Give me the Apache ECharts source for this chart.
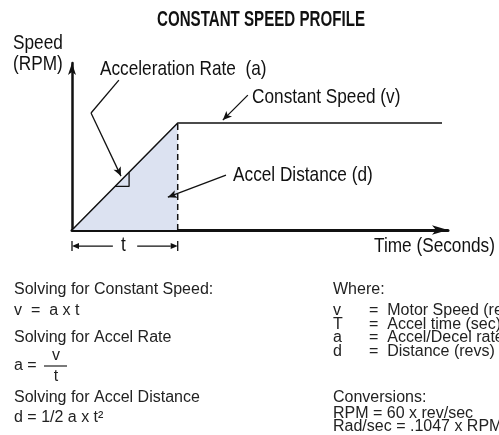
<!DOCTYPE html>
<html>
<head>
<meta charset="utf-8">
<script src="https://cdn.jsdelivr.net/npm/echarts@6/dist/echarts.min.js"></script>
<style>
  html, body { margin: 0; padding: 0; background: #fff; }
  #chart { width: 499px; height: 435px; }
</style>
</head>
<body>
<div id="chart"></div>
<script>
/* ---------- data (diagram units) ---------- */
const accelTime = 3;     // t
const topSpeed = 3;      // v
const runEnd = 10.5;

const profile = [[0, 0], [accelTime, topSpeed], [runEnd, topSpeed]];
const accelArea = [[0, 0], [accelTime, topSpeed]];
const accelEdge = [[accelTime, 0], [accelTime, topSpeed]];
const slopeMark = [[1.22, 1.22], [1.62, 1.22], [1.62, 1.62]];

// leader lines without / with an arrow head
const leaderLines = [
  [[1.33, 4.20], [0.54, 3.28]]
];
const leaderArrows = [
  [[0.54, 3.28], [1.39, 1.51]],
  [[4.99, 3.78], [4.28, 3.08]],
  [[4.37, 1.54], [2.72, 0.92]]
];
// the "t" dimension under the x axis
const dimTicks = [
  [[0, -0.31], [0, -0.59]],
  [[accelTime, -0.31], [accelTime, -0.59]]
];
const dimArrows = [
  [[1.16, -0.45], [0, -0.45]],
  [[1.85, -0.45], [accelTime, -0.45]]
];

const diagramLabels = [
  { name: 'Speed\n(RPM)', value: [-1.674, 4.95] },
  { name: 'Acceleration Rate  (a)', value: [0.795, 4.51] },
  { name: 'Constant Speed (v)', value: [5.11, 3.73] },
  { name: 'Accel Distance (d)', value: [4.57, 1.54] },
  { name: 'Time (Seconds)', value: [8.57, -0.45] },
  { name: 't', value: [1.39, -0.42] }
];

const solvingLines = [
  ['Solving for Constant Speed:', 290],
  ['v  =  a x t', 311],
  ['Solving for Accel Rate', 338],
  ['a =', 366],
  ['Solving for Accel Distance', 398],
  ['d = 1/2 a x t\u00b2', 418]
];
const whereLines = [
  ['Where:', 290],
  ['Conversions:', 398],
  ['RPM = 60 x rev/sec', 414],
  ['Rad/sec = .1047 x RPM', 427]
];
const variableRows = [
  ['v', 'Motor Speed (rev/sec)', 311],
  ['T', 'Accel time (sec)', 324.5],
  ['a', 'Accel/Decel rate (rev/sec\u00b2)', 338],
  ['d', 'Distance (revs)', 351.5]
];

/* ---------- chart ---------- */
const chart = echarts.init(document.getElementById('chart'));
const sans = '"Liberation Sans", Arial, sans-serif';
const ink = '#111';
const txt = '#222';

function segs(list) {
  return list.map(s => [{ coord: s[0] }, { coord: s[1] }]);
}

function marker(list, arrow) {
  return {
    type: 'line', data: [], silent: true,
    markLine: {
      silent: true,
      symbol: ['none', arrow ? 'arrow' : 'none'],
      symbolSize: [6, 9],
      label: { show: false },
      lineStyle: { color: ink, width: 1.3, type: 'solid' },
      emphasis: { disabled: true },
      animation: false,
      data: segs(list)
    }
  };
}

// straight pieces below the axis (outside the grid), drawn via the axis scales
function dimSeries(list, withHead) {
  return {
    type: 'custom', clip: false, silent: true,
    data: list.map(s => [s[0][0], s[0][1], s[1][0], s[1][1]]),
    renderItem(params, api) {
      const a = api.coord([api.value(0), api.value(1)]);
      const b = api.coord([api.value(2), api.value(3)]);
      if (!withHead) {
        return { type: 'line', shape: { x1: a[0], y1: a[1], x2: b[0], y2: b[1] }, style: { stroke: ink, lineWidth: 1.3 } };
      }
      const ang = Math.atan2(b[1] - a[1], b[0] - a[0]);
      const len = 7, half = 3;
      const bx = b[0] - len * Math.cos(ang), by = b[1] - len * Math.sin(ang);
      const nx = -Math.sin(ang) * half, ny = Math.cos(ang) * half;
      return {
        type: 'group', children: [
          { type: 'line', shape: { x1: a[0], y1: a[1], x2: bx, y2: by }, style: { stroke: ink, lineWidth: 1.3 } },
          { type: 'polygon', shape: { points: [[b[0], b[1]], [bx + nx, by + ny], [bx - nx, by - ny]] }, style: { fill: ink } }
        ]
      };
    }
  };
}

const texts = [];
function addText(x, y, s, extra) {
  texts.push(Object.assign({ type: 'text', x: x, y: y, silent: true,
    style: Object.assign({ text: s, font: '16px ' + sans, fill: txt, verticalAlign: 'middle' }, extra || {}) }));
}
solvingLines.forEach(l => addText(14, l[1], l[0]));
addText(56, 356, 'v', { align: 'center' });
addText(56, 377, 't', { align: 'center' });
texts.push({ type: 'line', silent: true, shape: { x1: 44, y1: 366, x2: 67, y2: 366 }, style: { stroke: txt, lineWidth: 1.2 } });
whereLines.forEach(l => addText(333, l[1], l[0]));
variableRows.forEach(r => {
  addText(333, r[2], r[0]);
  addText(369, r[2], '=  ' + r[1]);
});
// condensed title (Helvetica Condensed look-alike)
texts.push({ type: 'text', x: 157, y: 20, scaleX: 0.687, silent: true,
  style: { text: 'CONSTANT SPEED PROFILE', font: 'bold 22px ' + sans, fill: ink, verticalAlign: 'middle' } });

const option = {
  animation: false,
  grid: { left: 72, top: 63, width: 376, height: 167 },
  xAxis: {
    type: 'value', min: 0, max: 10.67,
    axisLine: { symbol: ['none', 'arrow'], symbolSize: [7, 16], lineStyle: { color: ink, width: 3 } },
    axisTick: { show: false }, axisLabel: { show: false }, splitLine: { show: false }
  },
  yAxis: {
    type: 'value', min: 0, max: 4.68,
    axisLine: { show: true, symbol: ['none', 'arrow'], symbolSize: [6, 12], lineStyle: { color: ink, width: 2.5 } },
    axisTick: { show: false }, axisLabel: { show: false }, splitLine: { show: false }
  },
  series: [
    {
      type: 'line', data: accelArea, showSymbol: false, silent: true,
      lineStyle: { width: 0 }, areaStyle: { color: '#dce2f1', opacity: 1 }
    },
    {
      type: 'line', data: accelEdge, showSymbol: false, silent: true,
      lineStyle: { color: ink, width: 1.5, type: [6, 4] }
    },
    {
      type: 'line', data: profile, showSymbol: false, silent: true,
      lineStyle: { color: ink, width: 1.5 }
    },
    {
      type: 'line', data: slopeMark, showSymbol: false, silent: true,
      lineStyle: { color: ink, width: 1.3 }
    },
    marker(leaderLines, false),
    marker(leaderArrows, true),
    dimSeries(dimTicks, false),
    dimSeries(dimArrows, true)
  ]
};
chart.setOption(option);

// diagram labels: anchored through the axis scales, narrowed like a condensed face
diagramLabels.forEach(l => {
  const p = chart.convertToPixel({ gridIndex: 0 }, l.value);
  texts.push({ type: 'text', x: p[0], y: p[1], scaleX: 0.82, silent: true,
    style: { text: l.name, font: '21px ' + sans, fill: ink, verticalAlign: 'middle', lineHeight: 21 } });
});
chart.setOption({ graphic: texts });
</script>
</body>
</html>
